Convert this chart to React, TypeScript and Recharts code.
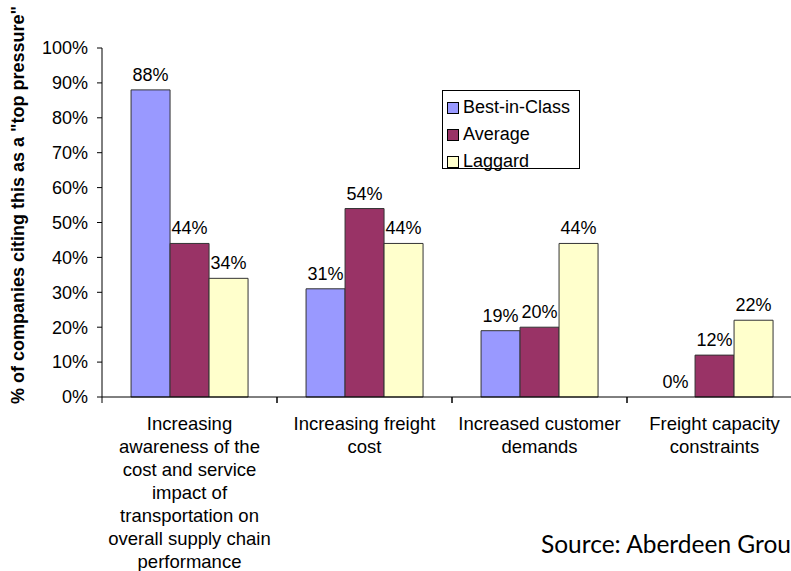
import React from "react";
import { BarChart, Bar, XAxis, YAxis, Legend, LabelList, Rectangle } from "recharts";

const CATEGORIES = [
  "Increasing\nawareness of the\ncost and service\nimpact of\ntransportation on\noverall supply chain\nperformance",
  "Increasing freight\ncost",
  "Increased customer\ndemands",
  "Freight capacity\nconstraints",
];
const BEST_IN_CLASS = [88, 31, 19, 0];
const AVERAGE = [44, 54, 20, 12];
const LAGGARD = [34, 44, 44, 22];
const Y_TICKS = [0, 10, 20, 30, 40, 50, 60, 70, 80, 90, 100];

const SERIES = [
  { key: "best", name: "Best-in-Class", color: "#9999ff" },
  { key: "avg", name: "Average", color: "#993366" },
  { key: "lag", name: "Laggard", color: "#ffffcc" },
];

const FONT = "Arial, 'Liberation Sans', sans-serif";

const data = CATEGORIES.map((c, i) => ({
  category: c,
  best: BEST_IN_CLASS[i],
  avg: AVERAGE[i],
  lag: LAGGARD[i],
}));

const BAND = 175;

function CategoryTick(props: any) {
  const { x, payload } = props;
  const lines = String(payload.value).split("\n");
  const axisY = 397;
  return (
    <g>
      <line x1={x - BAND / 2} x2={x - BAND / 2} y1={axisY} y2={axisY + 6} stroke="#000" />
      <line x1={x + BAND / 2} x2={x + BAND / 2} y1={axisY} y2={axisY + 6} stroke="#000" />
      <text textAnchor="middle" fontSize={18.5} fontFamily={FONT} fill="#000">
        {lines.map((l, i) => (
          <tspan key={i} x={x} y={430 + i * 23}>
            {l}
          </tspan>
        ))}
      </text>
    </g>
  );
}

// zero values get a tiny min size so their label is still drawn; the sliver itself is skipped
function BarShape(props: any) {
  if (!props.value || Math.abs(Number(props.height)) < 1) return <g />;
  return <Rectangle {...props} />;
}

function ValueLabel(props: any) {
  const { x, y, width, height, value } = props;
  if (value === undefined || value === null) return null;
  const top = Number(value) === 0 ? Number(y) + Number(height) : Number(y);
  return (
    <text
      x={Number(x) + Number(width) / 2}
      y={top - 9}
      textAnchor="middle"
      fontSize={18}
      fontFamily={FONT}
      fill="#000"
    >
      {`${value}%`}
    </text>
  );
}

function LegendBox() {
  return (
    <div
      style={{
        border: "1px solid #000",
        background: "#fff",
        width: 138,
        height: 79,
        boxSizing: "border-box",
        padding: "3px 0 0 4px",
        fontFamily: FONT,
        fontSize: 18,
        color: "#000",
      }}
    >
      {SERIES.map((s) => (
        <div key={s.key} style={{ display: "flex", alignItems: "center", height: 27 }}>
          <span
            style={{
              display: "inline-block",
              width: 10,
              height: 10,
              background: s.color,
              border: "1px solid #000",
              marginRight: 4,
            }}
          />
          <span>{s.name}</span>
        </div>
      ))}
    </div>
  );
}

export default function App() {
  return (
    <div
      style={{
        position: "absolute",
        left: 0,
        top: 0,
        width: 791,
        height: 571,
        overflow: "hidden",
        background: "#fff",
      }}
    >
      <BarChart
        width={802}
        height={571}
        data={data}
        margin={{ top: 48, right: 0, left: 0, bottom: 0 }}
        barCategoryGap="16.6%"
        barGap={0}
      >
        <XAxis
          dataKey="category"
          height={174}
          interval={0}
          tickLine={false}
          axisLine={{ stroke: "#000" }}
          tick={<CategoryTick />}
        />
        <YAxis
          width={102}
          domain={[0, 100]}
          ticks={Y_TICKS}
          tickFormatter={(v: number) => `${v}%`}
          tickSize={5}
          tickMargin={9}
          axisLine={{ stroke: "#000" }}
          tickLine={{ stroke: "#000" }}
          tick={{ fill: "#000", fontSize: 18, fontFamily: FONT }}
        />
        <Legend
          content={() => <LegendBox />}
          wrapperStyle={{
            position: "absolute",
            left: 442,
            top: 90,
            width: 0,
            height: 0,
            overflow: "visible",
          }}
        />
        {SERIES.map((s) => (
          <Bar
            key={s.key}
            dataKey={s.key}
            name={s.name}
            fill={s.color}
            stroke="#333"
            strokeWidth={1}
            minPointSize={0.5}
            shape={<BarShape />}
            isAnimationActive={false}
          >
            <LabelList dataKey={s.key} content={<ValueLabel />} />
          </Bar>
        ))}
      </BarChart>
      <div
        style={{
          position: "absolute",
          left: 18,
          top: 205,
          transform: "translate(-50%, -50%) rotate(-90deg)",
          whiteSpace: "nowrap",
          fontFamily: FONT,
          fontWeight: "bold",
          fontSize: 18,
          color: "#000",
        }}
      >
        % of companies citing this as a "top pressure"
      </div>
      <div
        style={{
          position: "absolute",
          left: 541,
          top: 529,
          whiteSpace: "nowrap",
          fontFamily: "Lato, 'Open Sans', sans-serif",
          fontSize: 24.5,
          color: "#000",
        }}
      >
        Source: Aberdeen Group
      </div>
    </div>
  );
}
